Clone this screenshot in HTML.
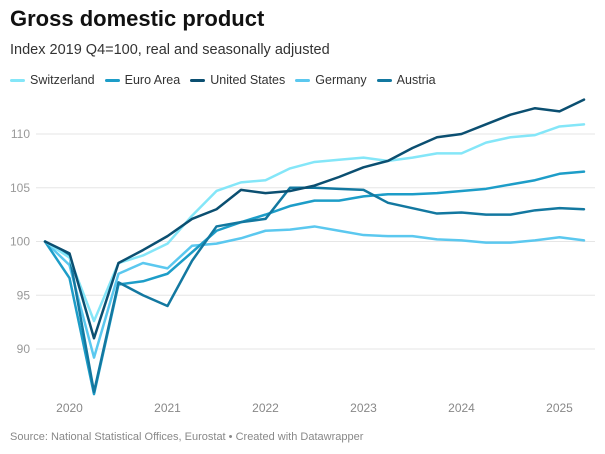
<!DOCTYPE html>
<html><head><meta charset="utf-8">
<style>
body{margin:0;background:#fff;font-family:"Liberation Sans",sans-serif;}
#wrap{position:relative;width:605px;height:454px;overflow:hidden;}
h1{position:absolute;left:10px;top:6px;margin:0;font-size:22px;font-weight:bold;color:#111;}
.sub{position:absolute;left:10px;top:42px;font-size:14.5px;color:#333;}
.legend{position:absolute;left:10px;top:73px;font-size:12.5px;color:#333;display:flex;gap:10px;}
.legend span{display:flex;align-items:center;}
.legend i{display:inline-block;width:15px;height:3px;border-radius:2px;margin-right:5px;}
.src{position:absolute;left:10px;top:431px;font-size:11px;color:#888;}
svg{position:absolute;left:0;top:0;}
</style></head><body>
<div id="wrap">
<h1>Gross domestic product</h1>
<div class="sub">Index 2019 Q4=100, real and seasonally adjusted</div>
<div class="legend">
<span><i style="background:#84e6f8"></i>Switzerland</span>
<span><i style="background:#1d9dc8"></i>Euro Area</span>
<span><i style="background:#0b4f71"></i>United States</span>
<span><i style="background:#5bc8ef"></i>Germany</span>
<span><i style="background:#1378a0"></i>Austria</span>
</div>
<svg id="plot" width="605" height="454"></svg>
<div class="src">Source: National Statistical Offices, Eurostat • Created with Datawrapper</div>
</div>
<script>
const yTicks=[90,95,100,105,110];
const xTickLabels=["2020","2021","2022","2023","2024","2025"];
const xTickIndex=[1,5,9,13,17,21];
const switzerland=[100,98.5,92.6,98,98.7,99.8,102.4,104.7,105.5,105.7,106.8,107.4,107.6,107.8,107.5,107.8,108.2,108.2,109.2,109.7,109.9,110.7,110.9];
const unitedStates=[100,98.9,91,98,99.2,100.5,102.1,103,104.8,104.5,104.7,105.2,106,106.9,107.5,108.7,109.7,110,110.9,111.8,112.4,112.1,113.2];
const austria=[100,98.7,86,96.2,95,94,98.2,101.4,101.8,102.1,105,105,104.9,104.8,103.6,103.1,102.6,102.7,102.5,102.5,102.9,103.1,103];
const euroArea=[100,96.6,85.8,96,96.3,97,99,101,101.8,102.5,103.3,103.8,103.8,104.2,104.4,104.4,104.5,104.7,104.9,105.3,105.7,106.3,106.5];
const germany=[100,97.8,89.2,97,98,97.5,99.6,99.8,100.3,101,101.1,101.4,101,100.6,100.5,100.5,100.2,100.1,99.9,99.9,100.1,100.4,100.1];
const series=[
 {name:"germany",data:germany,color:"#5bc8ef"},
 {name:"euro-area",data:euroArea,color:"#1d9dc8"},
 {name:"austria",data:austria,color:"#1378a0"},
 {name:"switzerland",data:switzerland,color:"#84e6f8"},
 {name:"united-states",data:unitedStates,color:"#0b4f71"}
];
const X=i=>45+i*24.5;
const Y=v=>241.5-(v-100)*10.75;
const svg=document.getElementById('plot');
const NS="http://www.w3.org/2000/svg";
yTicks.forEach(t=>{
 const l=document.createElementNS(NS,'line');
 
 
 l.setAttribute('x1',36);l.setAttribute('x2',595);
 l.setAttribute('y1',Y(t));l.setAttribute('y2',Y(t));
 l.setAttribute('stroke','#e6e6e6');l.setAttribute('stroke-width',1);
 svg.appendChild(l);
 const tx=document.createElementNS(NS,'text');
 
 
 tx.setAttribute('x',30);tx.setAttribute('y',Y(t)+4);
 tx.setAttribute('text-anchor','end');tx.setAttribute('font-size','12');
 tx.setAttribute('fill','#999');tx.textContent=t;
 svg.appendChild(tx);
});
xTickLabels.forEach((lab,k)=>{
 const tx=document.createElementNS(NS,'text');
 
 
 tx.setAttribute('x',X(xTickIndex[k]));tx.setAttribute('y',412);
 tx.setAttribute('text-anchor','middle');tx.setAttribute('font-size','12');
 tx.setAttribute('fill','#888');tx.textContent=lab;
 svg.appendChild(tx);
});
series.forEach(s=>{
 const p=document.createElementNS(NS,'polyline');
 
 
 p.setAttribute('points',s.data.map((v,i)=>X(i)+','+Y(v)).join(' '));
 p.setAttribute('fill','none');p.setAttribute('stroke',s.color);
 p.setAttribute('stroke-width',2.5);p.setAttribute('stroke-linejoin','round');p.setAttribute('stroke-linecap','round');
 svg.appendChild(p);
});
</script>
</body></html>
